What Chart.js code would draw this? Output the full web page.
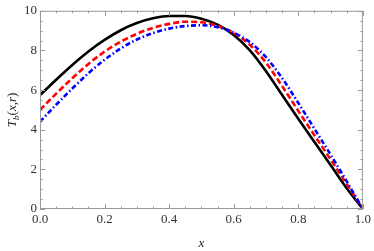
<!DOCTYPE html>
<html>
<head>
<meta charset="utf-8">
<script src="https://cdn.jsdelivr.net/npm/chart.js@4"></script>
<style>
    html, body { margin: 0; padding: 0; background: #fff; }
    #wrap { width: 374px; height: 251px; position: relative; }
</style>
</head>
<body>
<div id="wrap"><canvas id="chart"></canvas></div>
<script>
// Данные
const xValues = [0, 0.05, 0.1, 0.15, 0.2, 0.25, 0.3, 0.35, 0.4, 0.45, 0.5,
                 0.55, 0.6, 0.65, 0.7, 0.75, 0.8, 0.85, 0.9, 0.95, 1];
const blackCurve = [5.75, 6.52, 7.27, 7.95, 8.53, 9.02, 9.38, 9.62, 9.74, 9.74, 9.6,
                    9.3, 8.78, 8.0, 6.95, 5.75, 4.55, 3.38, 2.22, 1.05, 0];
const redCurve = [5.0, 5.82, 6.6, 7.32, 7.94, 8.44, 8.84, 9.14, 9.34, 9.45, 9.42,
                  9.24, 8.88, 8.28, 7.38, 6.2, 4.95, 3.72, 2.5, 1.26, 0];
const blueCurve = [4.4, 5.26, 6.08, 6.85, 7.53, 8.1, 8.55, 8.88, 9.1, 9.23, 9.27,
                   9.17, 8.9, 8.42, 7.66, 6.6, 5.35, 4.05, 2.74, 1.39, 0];
const xTicks = [0, 0.2, 0.4, 0.6, 0.8, 1.0];
const yTicks = [0, 2, 4, 6, 8, 10];

const serif = '"Liberation Serif", "Times New Roman", serif';
const frameColor = '#999999';

function toPoints(ys) {
    return xValues.map((x, i) => ({ x: x, y: ys[i] }));
}

// Рамка с внутренними засечками (как в Mathematica)
const frameTicks = {
    id: 'frameTicks',
    afterDatasetsDraw(chart) {
        const ctx = chart.ctx;
        const a = chart.chartArea;
        const xs = chart.scales.x;
        const ys = chart.scales.y;
        ctx.save();
        ctx.strokeStyle = frameColor;
        ctx.lineWidth = 1;
        ctx.strokeRect(a.left + 0.5, a.top + 0.5, a.right - a.left - 1, a.bottom - a.top - 1);
        ctx.beginPath();
        for (let i = 0; i <= 20; i++) {
            const px = Math.round(xs.getPixelForValue(i * 0.05)) + 0.5;
            const len = (i % 4 === 0) ? 5 : 2.5;
            ctx.moveTo(px, a.bottom); ctx.lineTo(px, a.bottom - len);
            ctx.moveTo(px, a.top); ctx.lineTo(px, a.top + len);
        }
        for (let i = 0; i <= 20; i++) {
            const py = Math.round(ys.getPixelForValue(i * 0.5)) + 0.5;
            const len = (i % 4 === 0) ? 5 : 2.5;
            ctx.moveTo(a.left, py); ctx.lineTo(a.left + len, py);
            ctx.moveTo(a.right, py); ctx.lineTo(a.right - len, py);
        }
        ctx.stroke();

        // Подпись оси Y: T_b(x,r)
        ctx.fillStyle = '#222';
        ctx.translate(12, (a.top + a.bottom) / 2);
        ctx.rotate(-Math.PI / 2);
        ctx.textBaseline = 'alphabetic';
        const parts = [
            { t: 'T', f: 'italic 13px ' + serif, dy: 0 },
            { t: 'b', f: 'italic 9px ' + serif, dy: 3 },
            { t: '(', f: '13px ' + serif, dy: 0 },
            { t: 'x', f: 'italic 13px ' + serif, dy: 0 },
            { t: ',', f: '13px ' + serif, dy: 0 },
            { t: 'r', f: 'italic 13px ' + serif, dy: 0 },
            { t: ')', f: '13px ' + serif, dy: 0 }
        ];
        let total = 0;
        parts.forEach(p => { ctx.font = p.f; total += ctx.measureText(p.t).width; });
        let cx = -total / 2;
        parts.forEach(p => {
            ctx.font = p.f;
            ctx.fillText(p.t, cx, 4 + p.dy);
            cx += ctx.measureText(p.t).width;
        });
        ctx.restore();
    }
};

const ctx = document.getElementById('chart');
new Chart(ctx, {
    type: 'line',
    data: {
        datasets: [
            {
                data: toPoints(blackCurve),
                borderColor: '#000000',
                borderWidth: 2.6,
                order: 2
            },
            {
                data: toPoints(redCurve),
                borderColor: '#ff0000',
                borderWidth: 2.6,
                borderDash: [6, 3],
                order: 1
            },
            {
                data: toPoints(blueCurve),
                borderColor: '#0000ff',
                borderWidth: 2.6,
                borderDash: [5, 2.5, 1.5, 2.5],
                order: 0
            }
        ]
    },
    options: {
        responsive: true,
        maintainAspectRatio: false,
        animation: false,
        devicePixelRatio: 1,
        layout: { padding: { top: 8, right: 10, left: 0, bottom: 0 } },
        elements: {
            point: { radius: 0 },
            line: { cubicInterpolationMode: 'monotone', fill: false }
        },
        plugins: {
            legend: { display: false },
            tooltip: { enabled: false }
        },
        scales: {
            x: {
                type: 'linear',
                min: 0,
                max: 1,
                grid: { display: false, drawTicks: false },
                border: { display: false },
                afterFit: (scale) => { scale.height = 42; },
                afterBuildTicks: (scale) => { scale.ticks = xTicks.map(v => ({ value: v })); },
                ticks: {
                    padding: 3,
                    maxRotation: 0,
                    color: '#333',
                    font: { family: serif, size: 13 },
                    callback: (v) => Number(v).toFixed(1)
                },
                title: {
                    display: true,
                    text: 'x',
                    color: '#222',
                    padding: { top: 4, bottom: 0 },
                    font: { family: serif, size: 13, style: 'italic' }
                }
            },
            y: {
                min: 0,
                max: 10,
                grid: { display: false, drawTicks: false },
                border: { display: false },
                afterFit: (scale) => { scale.width = 40; },
                afterBuildTicks: (scale) => { scale.ticks = yTicks.map(v => ({ value: v })); },
                ticks: {
                    padding: 3,
                    color: '#333',
                    font: { family: serif, size: 13 },
                    callback: (v) => String(v)
                }
            }
        }
    },
    plugins: [frameTicks]
});
</script>
</body>
</html>
